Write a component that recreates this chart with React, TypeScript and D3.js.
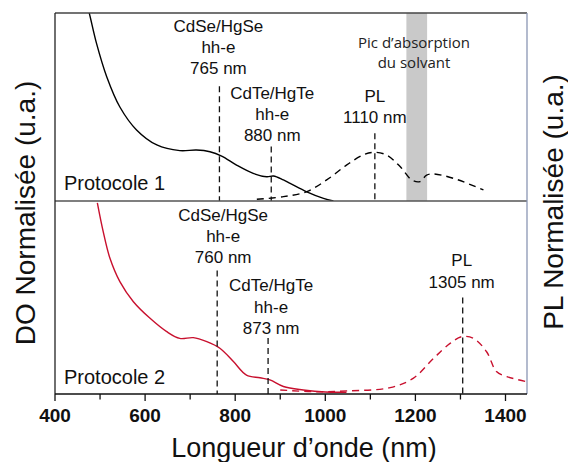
import React, { useEffect, useRef } from "react";
import * as d3 from "d3";

// wavelength axis
const xTicks = [400, 500, 600, 700, 800, 900, 1000, 1100, 1200, 1300, 1400];
const xLabels = ["400", "600", "800", "1000", "1200", "1400"];

// protocole 1 (black)
const absNm1 = [470, 476, 492, 515, 544, 581, 626, 677, 714, 744, 770, 803, 840, 870, 885, 907, 922, 959, 996, 1018];
const absVal1 = [1.05, 1.0, 0.84, 0.66, 0.5, 0.378, 0.298, 0.268, 0.271, 0.262, 0.239, 0.191, 0.147, 0.129, 0.133, 0.112, 0.094, 0.049, 0.014, 0.0];
const plNm1 = [848, 907, 959, 1003, 1047, 1084, 1107, 1136, 1166, 1192, 1210, 1225, 1240, 1284, 1351];
const plVal1 = [0.009, 0.023, 0.05, 0.112, 0.191, 0.245, 0.259, 0.245, 0.183, 0.112, 0.103, 0.138, 0.144, 0.121, 0.059];
const solventBand = [1180, 1226];

// protocole 2 (red)
const absNm2 = [494, 507, 522, 544, 574, 611, 648, 677, 707, 737, 766, 796, 825, 855, 877, 907, 951, 1000, 1047];
const absVal2 = [0.99, 0.841, 0.703, 0.582, 0.478, 0.392, 0.323, 0.288, 0.292, 0.271, 0.237, 0.168, 0.098, 0.084, 0.073, 0.039, 0.021, 0.01, 0.009];
const plNm2 = [900, 973, 1047, 1144, 1195, 1240, 1277, 1303, 1329, 1358, 1380, 1403, 1447];
const plVal2 = [0.021, 0.012, 0.016, 0.033, 0.081, 0.184, 0.262, 0.297, 0.288, 0.219, 0.116, 0.09, 0.064];

// annotated transitions: wavelength, top of dashed marker, label lines
const markNm1 = [765, 880, 1110];
const markTop1 = [0.61, 0.29, 0.36];
const markText1 = [["CdSe/HgSe", "hh-e", "765 nm"], ["CdTe/HgTe", "hh-e", "880 nm"], ["PL", "1110 nm"]];
const markNm2 = [760, 873, 1305];
const markTop2 = [0.64, 0.29, 0.5];
const markText2 = [["CdSe/HgSe", "hh-e", "760 nm"], ["CdTe/HgTe", "hh-e", "873 nm"], ["PL", "1305 nm"]];

const RED = "#c8102e";
const FONT = "'Liberation Sans', Arial, sans-serif";

export default function App() {
    const node = useRef<SVGSVGElement>(null);

    useEffect(() => {
        const svg = d3.select(node.current);
        svg.selectAll("*").remove();

        const left = 55, right = 527, top = 13, mid = 201, bottom = 394;

        const x = d3.scaleLinear().domain([400, 1450]).range([left, left + 1050 * 0.4505]);
        const y1 = d3.scaleLinear().domain([0, 1]).range([mid, top]);
        const y2 = d3.scaleLinear().domain([0, 1]).range([bottom, mid]);

        const defs = svg.append("defs");
        defs.append("clipPath").attr("id", "c1").append("rect")
            .attr("x", left).attr("y", top).attr("width", right - left).attr("height", mid - top);
        defs.append("clipPath").attr("id", "c2").append("rect")
            .attr("x", left).attr("y", mid).attr("width", right - left).attr("height", bottom - mid);

        // solvent absorption band
        svg.append("rect")
            .attr("x", x(solventBand[0])).attr("y", top)
            .attr("width", x(solventBand[1]) - x(solventBand[0])).attr("height", mid - top)
            .attr("fill", "#c9c9c9");

        const drawCurve = (nm: number[], val: number[], ys: any, color: string, dash: string | null, clip: string) => {
            const pts = nm.map((n, i) => [n, val[i]] as [number, number]);
            const line = d3.line<[number, number]>()
                .x(d => x(d[0]))
                .y(d => ys(d[1]))
                .curve(d3.curveCatmullRom);
            const p = svg.append("path")
                .datum(pts)
                .attr("d", line as any)
                .attr("fill", "none")
                .attr("stroke", color)
                .attr("stroke-width", 1.4)
                .attr("clip-path", "url(#" + clip + ")");
            if (dash) p.attr("stroke-dasharray", dash);
        };

        drawCurve(absNm1, absVal1, y1, "#000", null, "c1");
        drawCurve(plNm1, plVal1, y1, "#000", "7,5", "c1");
        drawCurve(absNm2, absVal2, y2, RED, null, "c2");
        drawCurve(plNm2, plVal2, y2, RED, "7,5", "c2");

        // gap between label and marker top, and small horizontal shift of the label
        const drawMarks = (nm: number[], tops: number[], texts: string[][], ys: any, gaps: number[], dx: number[]) => {
            nm.forEach((n, i) => {
                svg.append("line")
                    .attr("x1", x(n)).attr("x2", x(n))
                    .attr("y1", ys(tops[i])).attr("y2", ys(0))
                    .attr("stroke", "#111").attr("stroke-width", 1.3)
                    .attr("stroke-dasharray", "6,4");
                const lines = texts[i];
                lines.forEach((t, j) => {
                    svg.append("text")
                        .attr("x", x(n) + dx[i])
                        .attr("y", ys(tops[i]) - gaps[i] + 6 - (lines.length - 1 - j) * 21.3)
                        .attr("text-anchor", "middle")
                        .attr("font-family", FONT)
                        .attr("font-size", 17)
                        .attr("fill", "#111")
                        .text(t);
                });
            });
        };
        drawMarks(markNm1, markTop1, markText1, y1, [18, 11, 16], [-1, 1, 0]);
        drawMarks(markNm2, markTop2, markText2, y2, [13, 10, 16], [6, 3, -1]);

        // solvent note
        ["Pic d\u2019absorption", "du solvant"].forEach((t, j) => {
            svg.append("text")
                .attr("x", 414).attr("y", 48 + j * 20)
                .attr("text-anchor", "middle")
                .attr("font-family", "'Open Sans', sans-serif")
                .attr("font-size", 15)
                .attr("fill", "#222")
                .text(t);
        });

        // protocol names
        svg.append("text").attr("x", 64).attr("y", 190)
            .attr("font-family", FONT).attr("font-size", 20).attr("fill", "#111")
            .text("Protocole 1");
        svg.append("text").attr("x", 64).attr("y", 384)
            .attr("font-family", FONT).attr("font-size", 20).attr("fill", "#111")
            .text("Protocole 2");

        // frame
        svg.append("line").attr("x1", left).attr("x2", right).attr("y1", top).attr("y2", top)
            .attr("stroke", "#444").attr("stroke-width", 1.3);
        svg.append("line").attr("x1", left).attr("x2", right).attr("y1", mid).attr("y2", mid)
            .attr("stroke", "#555").attr("stroke-width", 1.6);
        svg.append("line").attr("x1", right).attr("x2", right).attr("y1", top).attr("y2", bottom)
            .attr("stroke", "#8a96b4").attr("stroke-width", 1.3);
        svg.append("line").attr("x1", left).attr("x2", left).attr("y1", top).attr("y2", bottom)
            .attr("stroke", "#222").attr("stroke-width", 1.3);

        // bottom axis
        const axis = svg.append("g").attr("transform", "translate(0," + bottom + ")");
        axis.append("line").attr("x1", left).attr("x2", right)
            .attr("stroke", "#111").attr("stroke-width", 1.4);
        xTicks.forEach(t => {
            const major = xLabels.includes(String(t));
            axis.append("line")
                .attr("x1", x(t)).attr("x2", x(t))
                .attr("y1", 0).attr("y2", major ? 7 : 5.5)
                .attr("stroke", "#111").attr("stroke-width", 1.3);
        });
        xLabels.forEach(l => {
            axis.append("text")
                .attr("x", x(+l)).attr("y", 27.5)
                .attr("text-anchor", "middle")
                .attr("font-family", FONT)
                .attr("font-weight", "bold")
                .attr("font-size", 19)
                .attr("fill", "#111")
                .text(l);
        });

        // axis titles
        svg.append("text").attr("x", 304).attr("y", 457)
            .attr("text-anchor", "middle")
            .attr("font-family", FONT).attr("font-size", 27).attr("fill", "#111")
            .text("Longueur d\u2019onde (nm)");
        svg.append("text")
            .attr("transform", "translate(35,213) rotate(-90)")
            .attr("text-anchor", "middle")
            .attr("font-family", FONT).attr("font-size", 28).attr("fill", "#111")
            .text("DO Normalisée (u.a.)");
        svg.append("text")
            .attr("transform", "translate(563,202) rotate(-90)")
            .attr("text-anchor", "middle")
            .attr("font-family", FONT).attr("font-size", 28).attr("fill", "#111")
            .text("PL Normalisée (u.a.)");
    }, []);

    return (
        <svg ref={node} width={568} height={462}
            style={{ position: "absolute", left: 0, top: 0, background: "#fff" }} />
    );
}
